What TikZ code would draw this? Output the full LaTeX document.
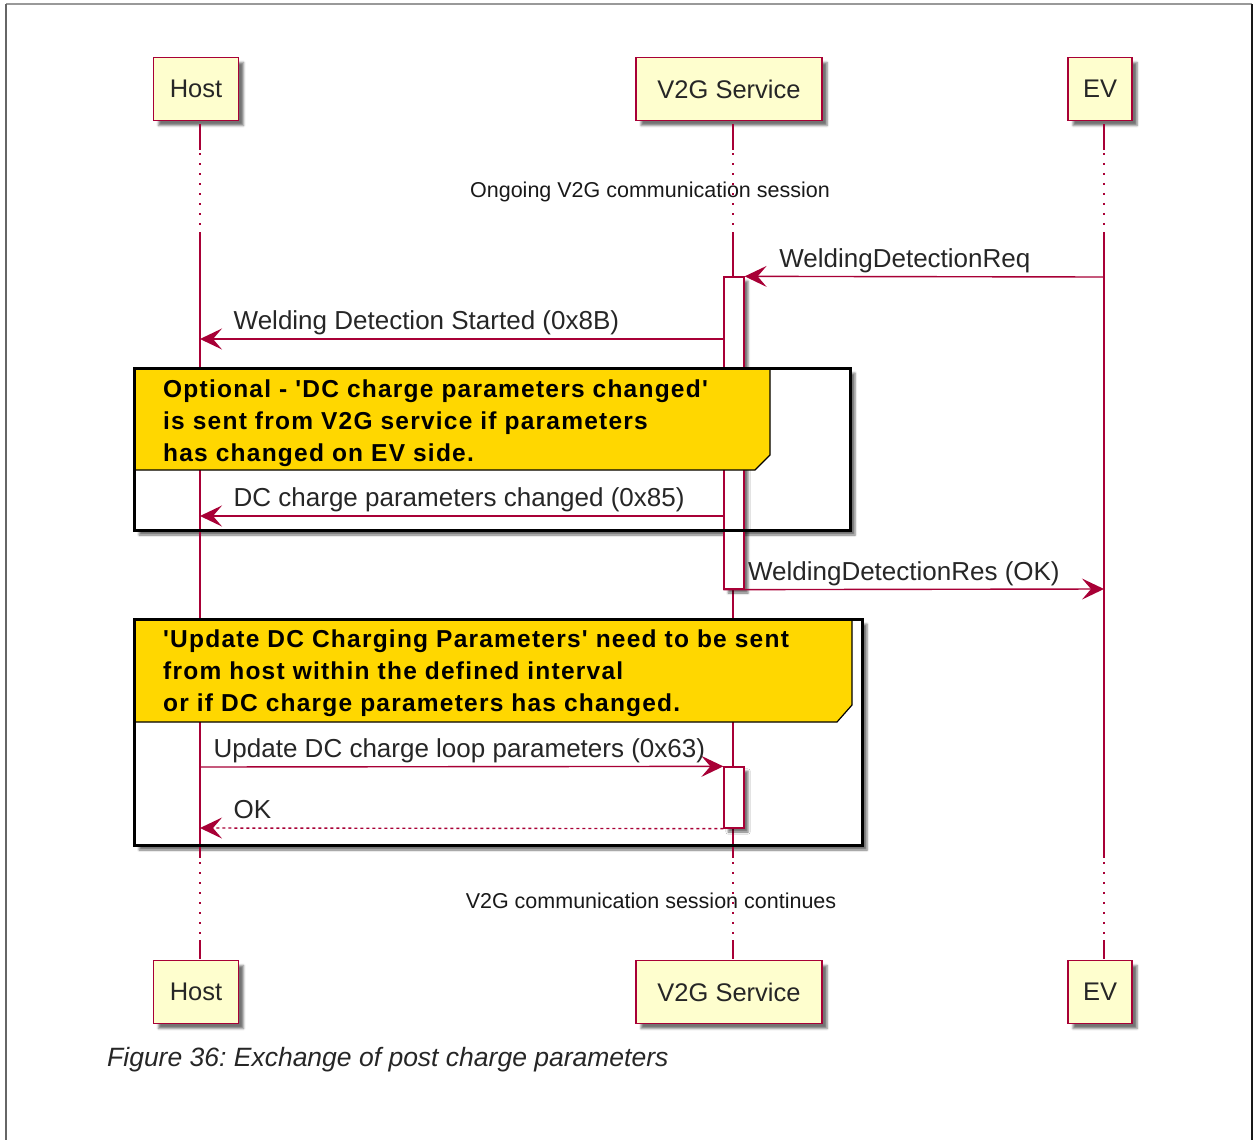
\documentclass[tikz,border=0pt]{standalone}
\usepackage{fontspec}
\setmainfont{Liberation Sans}
\newfontfamily\notefont[LetterSpace=5]{Liberation Sans}
\usetikzlibrary{arrows.meta,shadows.blur,positioning}
\frenchspacing

\definecolor{umlred}{HTML}{A80036}
\definecolor{umlcream}{HTML}{FEFECE}
\definecolor{umlgold}{HTML}{FFD700}

\begin{document}
\begin{tikzpicture}[x=1pt, y=-1pt, >={Stealth[length=22pt,width=21pt,inset=9pt]},
    participant/.style={draw=umlred, fill=umlcream, line width=1.5pt, minimum height=63pt, text=black!85,
        font=\fontsize{25.5}{30}\selectfont,
        blur shadow={shadow xshift=5pt, shadow yshift=-5pt, shadow blur steps=4, shadow opacity=55}},
    lifeline/.style={umlred, line width=1.3pt},
    delayline/.style={umlred, line width=1.6pt, dash pattern=on 1.6pt off 8.4pt},
    activation/.style={draw=umlred, fill=white, line width=1.3pt, minimum width=20pt, inner sep=0pt,
        blur shadow={shadow xshift=4pt, shadow yshift=-4pt, shadow blur steps=3, shadow opacity=55}},
    msg/.style={umlred, line width=1.4pt, ->},
    reply/.style={msg, dash pattern=on 3pt off 3pt},
    lbl/.style={font=\fontsize{26}{30}\selectfont, text=black!85, inner sep=0pt, anchor=base west},
    delaytext/.style={font=\fontsize{21.5}{26}\selectfont, text=black!90, inner sep=0pt},
    groupbox/.style={fill=white, blur shadow={shadow xshift=5pt, shadow yshift=-5pt, shadow blur steps=4, shadow opacity=55}},
    groupframe/.style={draw=black, line width=3pt},
    groupnote/.style={fill=umlgold, draw=black, line width=1.2pt},
    notetext/.style={font=\notefont\bfseries\fontsize{24.5}{32}\selectfont, align=left, anchor=north west, inner sep=0pt}]

    \useasboundingbox (0,0) rectangle (1253,1140);

    % Frame
    \draw[black!40, line width=1.2pt] (6,4) -- (1252,4);
    \draw[black!60, line width=1.5pt] (6,4) -- (6,1140);
    \draw[black!90, line width=1.5pt] (1252,4) -- (1252,1140);

    % Group backgrounds
    \path[groupbox] (134,368) rectangle (850,530);
    \path[groupbox] (134,619) rectangle (862,845);

    % Participants {host, v2g, ev}
    \node [participant, minimum width=85pt]  (hostTop) at (196,89)  {Host};
    \node [participant, minimum width=186pt] (v2gTop)  at (729,89)  {V2G Service};
    \node [participant, minimum width=64pt]  (evTop)   at (1100,89) {EV};
    \node [participant, minimum width=85pt]  (hostBot) at (196,992)  {Host};
    \node [participant, minimum width=186pt] (v2gBot)  at (729,992)  {V2G Service};
    \node [participant, minimum width=64pt]  (evBot)   at (1100,992) {EV};

    % Lifelines
    \foreach \x in {200,733,1104} {
        \draw[lifeline]  (\x,124) -- (\x,150);
        \draw[delayline] (\x,153) -- (\x,232);
        \draw[lifeline]  (\x,232) -- (\x,858);
        \draw[delayline] (\x,862) -- (\x,940);
        \draw[lifeline]  (\x,940) -- (\x,959);
    }

    \node[delaytext] (delayA) at (650,192) {Ongoing V2G communication session};
    \node[delaytext] (delayB) at (651,901) {V2G communication session continues};

    % Activations
    \node [activation, minimum height=312pt] (act1) at (734,433)   {};
    \node [activation, minimum height=61pt]  (act2) at (734,797.5) {};

    % Groups
    \draw[groupnote] (134,368) -- (770,368) -- (770,455) -- (755,470) -- (134,470) -- cycle;
    \node[notetext] (optNote) at (163,380) {Optional - 'DC charge parameters changed'\\is sent from V2G service if parameters\\has changed on EV side.};
    \draw[groupnote] (134,619) -- (852,619) -- (852,705) -- (837,722) -- (134,722) -- cycle;
    \node[notetext] (updNote) at (163,630) {'Update DC Charging Parameters' need to be sent\\from host within the defined interval\\or if DC charge parameters has changed.};
    \draw[groupframe] (134,368) rectangle (850,530);
    \draw[groupframe] (134,619) rectangle (862,845);

    % Message ends
    \coordinate (evReq)     at (1104,277);
    \coordinate (hostStart) at (200,339);
    \coordinate (hostChg)   at (200,516);
    \coordinate (evRes)     at (1104,589);
    \coordinate (hostUpd)   at (200,767);
    \coordinate (hostOk)    at (200,828);

    % Messages
    \draw[msg] (evReq) -- (act1.north east) node[lbl, xshift=34pt, yshift=9pt] {WeldingDetectionReq};
    \draw[msg] (act1.west |- hostStart) -- (hostStart) node[lbl, xshift=33pt, yshift=10pt] {Welding Detection Started (0x8B)};
    \draw[msg] (act1.west |- hostChg) -- (hostChg) node[lbl, xshift=33pt, yshift=10pt] {DC charge parameters changed (0x85)};
    \draw[msg] (act1.south west) node[lbl, xshift=24pt, yshift=9pt] {WeldingDetectionRes (OK)} -- (evRes);
    \draw[msg] (hostUpd) node[lbl, xshift=13pt, yshift=10pt] {Update DC charge loop parameters (0x63)} -- (act2.north west);
    \draw[reply] (act2.south west) -- (hostOk) node[lbl, xshift=33pt, yshift=10pt] {OK};

    % Caption
    \node[font=\itshape\fontsize{26.5}{32}\selectfont, text=black!85, anchor=base west, inner sep=0pt] (caption) at (107,1066) {Figure 36: Exchange of post charge parameters};
\end{tikzpicture}
\end{document}
